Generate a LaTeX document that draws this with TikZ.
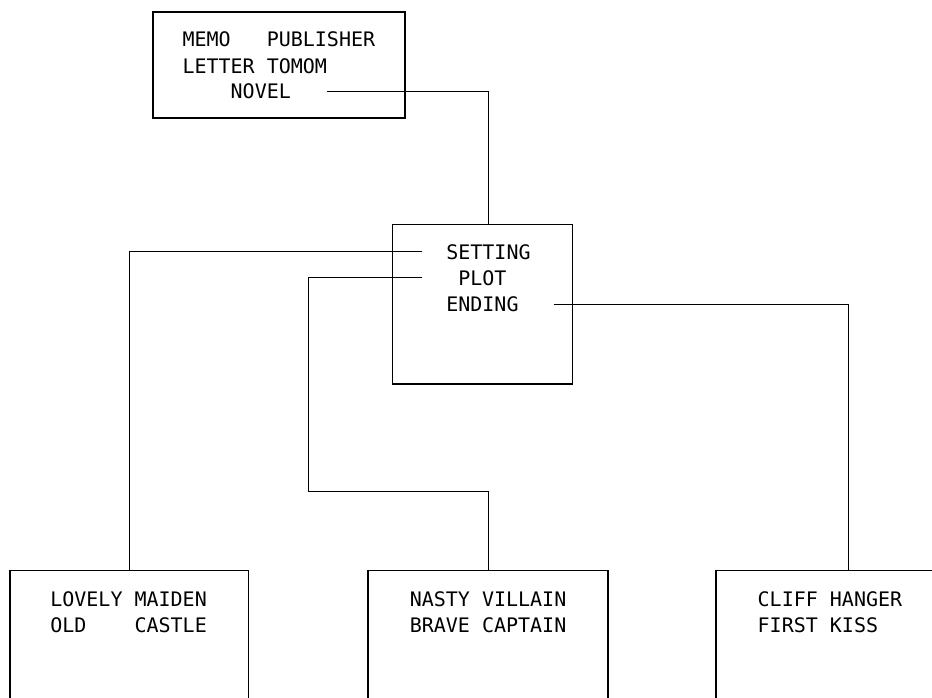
\documentclass[tikz,border=0pt]{standalone}
\usepackage{fontspec}
\newfontfamily\termfont{DejaVu Sans Mono}
\begin{document}
\begin{tikzpicture}[
    x = 1pt,
    y = -1pt,
    panel/.style = {draw=black, line width=1.2pt, anchor=north west,
              inner sep=0pt, outer sep=0pt},
    entry/.style = {anchor=base west, inner sep=0pt, outer sep=0pt,
              font=\termfont\fontsize{20}{24}\selectfont},
    wire/.style = {black, line width=1pt},
    ]

\useasboundingbox (0,0) rectangle (932,698);
\clip (0,0) rectangle (932,698);

\node[panel, minimum width=252pt, minimum height=106pt] (menu) at (153,12){};
\node[panel, minimum width=179.6pt, minimum height=159.7pt] (novelbox) at (392.7,224.3){};
\node[panel, minimum width=238.3pt, minimum height=200pt] (settingbox) at (10,570.5){};
\node[panel, minimum width=240pt, minimum height=200pt] (plotbox) at (368,570.5){};
\node[panel, minimum width=264pt, minimum height=200pt] (endingbox) at (716,570.5){};

\node[entry] (memo) at (182.5,46.7){MEMO~~~PUBLISHER};
\node[entry] (letter) at (182.5,73.3){LETTER TOMOM};
\node[entry] (novel) at (230.7,99){NOVEL};

\node[entry] (setting) at (446.3,259){SETTING};
\node[entry] (plot) at (458.3,285){PLOT};
\node[entry] (ending) at (446.3,311.7){ENDING};

\node[entry] (lovely) at (50.3,606){LOVELY MAIDEN};
\node[entry] (oldcastle) at (50.3,632){OLD~~~~CASTLE};
\node[entry] (nasty) at (409.8,606){NASTY VILLAIN};
\node[entry] (brave) at (409.8,632){BRAVE CAPTAIN};
\node[entry] (cliff) at (757.7,606){CLIFF HANGER};
\node[entry] (kiss) at (757.7,632){FIRST KISS};

\coordinate (plotbend) at (308,491);
\draw [wire] ([xshift=36pt]novel.east) -| ([xshift=6pt]novelbox.north);
\draw [wire] ([xshift=-24pt]setting.west) -| (settingbox.north);
\draw [wire] ([xshift=-36pt]plot.west) -| (plotbend) -| (plotbox.north);
\draw [wire] ([xshift=35pt]ending.east) -| (endingbox.north);

\end{tikzpicture}
\end{document}
